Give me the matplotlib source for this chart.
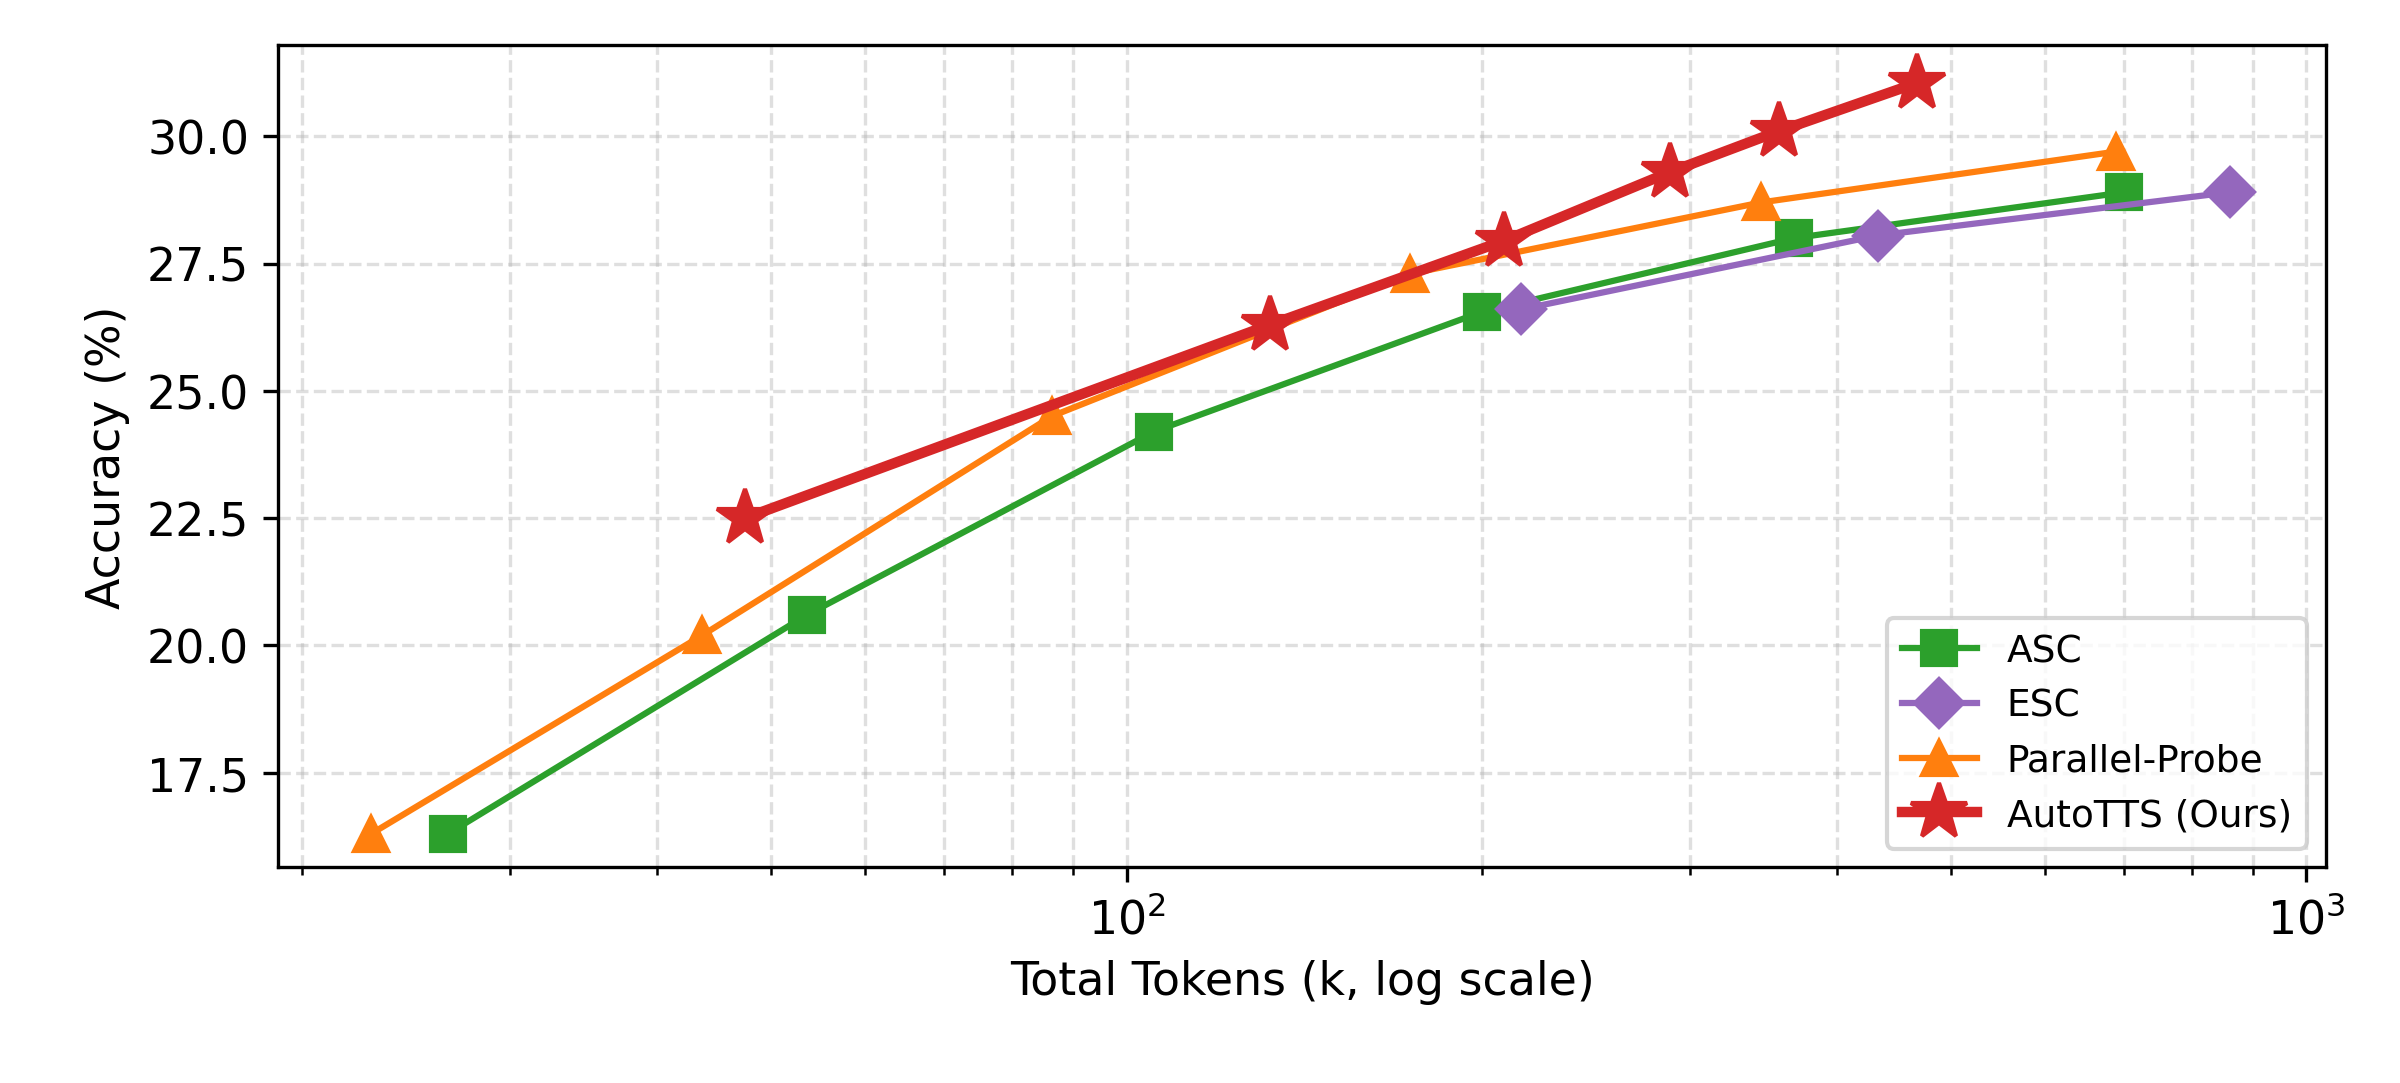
import matplotlib
matplotlib.use("Agg")
import matplotlib.pyplot as plt

asc_x = [26.6, 53.6, 105.5, 200, 368, 701]
asc_y = [16.3, 20.6, 24.2, 26.55, 28.0, 28.9]
esc_x = [216, 433, 861]
esc_y = [26.6, 28.05, 28.9]
pp_x = [22.9, 43.7, 86.4, 174, 345, 690]
pp_y = [16.3, 20.2, 24.5, 27.3, 28.7, 29.7]
auto_x = [47.5, 132.4, 209, 289, 357, 468]
auto_y = [22.5, 26.3, 27.95, 29.3, 30.1, 31.05]

fig, ax = plt.subplots(figsize=(8, 3.613), dpi=300)
fig.subplots_adjust(left=0.116, right=0.969, top=0.958, bottom=0.199)
ax.plot(asc_x, asc_y, '-s', color='#2ca02c', lw=1.5, ms=8, label='ASC')
ax.plot(esc_x, esc_y, '-D', color='#9467bd', lw=1.5, ms=8, label='ESC')
ax.plot(pp_x, pp_y, '-^', color='#ff7f0e', lw=1.5, ms=8, label='Parallel-Probe')
ax.plot(auto_x, auto_y, '-*', color='#d62728', lw=2.5, ms=14, label='AutoTTS (Ours)')
ax.set_xscale('log')
ax.set_xlim(19.1, 1038)
ax.set_ylim(15.64, 31.8)
ax.set_yticks([17.5, 20.0, 22.5, 25.0, 27.5, 30.0])
ax.grid(True, which='both', ls='--', alpha=0.4)
ax.set_xlabel('Total Tokens (k, log scale)', fontsize=11)
ax.set_ylabel('Accuracy (%)', fontsize=11)
ax.tick_params(labelsize=11)
ax.legend(loc='lower right', fontsize=9)
fig.savefig('out.png', dpi=300)
